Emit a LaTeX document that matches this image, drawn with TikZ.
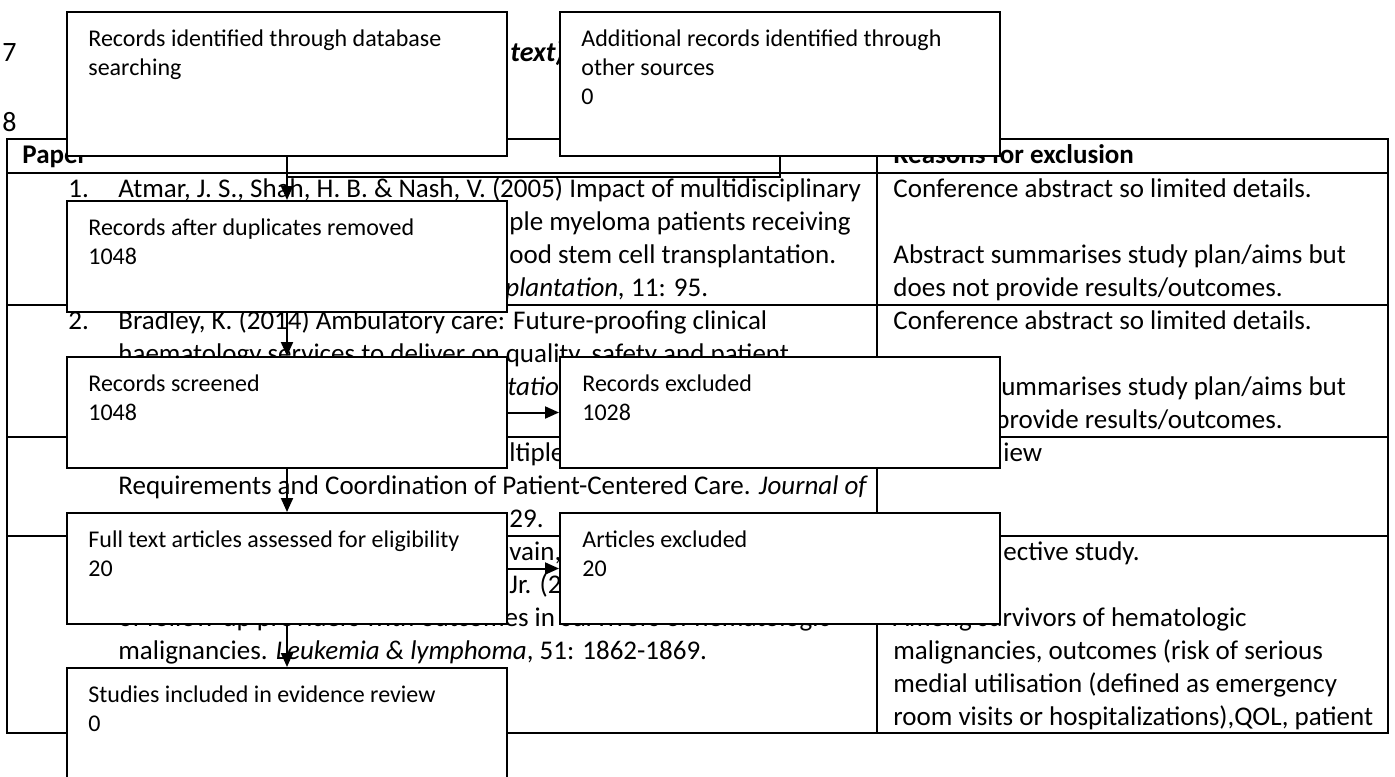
\documentclass[tikz,border=0pt]{standalone}
\usepackage{fontspec}
\setmainfont{Carlito}
\usetikzlibrary{arrows.meta,positioning}

\tikzset{
  flowbox/.style={draw, line width=1pt, fill=white, minimum width=220pt, minimum height=55.5pt, inner sep=0pt},
  boxtxt/.style={anchor=base west, inner sep=0pt, align=left, font=\fontsize{12}{14.65}\selectfont},
  celltxt/.style={anchor=base west, inner sep=0pt, font=\fontsize{13.5}{16.5}\selectfont},
  headtxt/.style={celltxt, font=\fontsize{13.5}{16.5}\selectfont\bfseries},
  flowarrow/.style={line width=1pt, -{Triangle[length=7pt,width=6pt]}},
  gridline/.style={line width=0.9pt}
}

\begin{document}
\begin{tikzpicture}[x=0.5pt,y=-0.5pt]
  \useasboundingbox (0,0) rectangle (1395,776);
  \clip (0,0) rectangle (1395,776);

  \node[anchor=base west, inner sep=0pt, font=\fontsize{14}{16}\selectfont] (lnseven) at (2,61) {7};
  \node[anchor=base west, inner sep=0pt, font=\fontsize{14}{16}\selectfont] (lneight) at (2,131) {8};
  \node[anchor=base west, inner sep=0pt, font=\fontsize{14}{16}\selectfont\bfseries\itshape] (title) at (510,61) {text)};

  \draw[gridline] (7,139) rectangle (1388,733);
  \draw[gridline] (877,139) -- (877,733);
  \foreach \y in {173,305,437,536}
    \draw[gridline] (7,\y) -- (1388,\y);

  \node[headtxt] (hdpaper) at (22,163) {Paper};
  \node[headtxt] (hdreason) at (893,163) {Reasons for exclusion};

  \node[celltxt] (onenum) at (68,197) {1.};
  \node[celltxt] (onea) at (118,197) {Atmar, J. S., Shah, H. B. \& Nash, V. (2005) Impact of multidisciplinary};
  \node[celltxt] (oneb) at (509,230) {ple myeloma patients receiving};
  \node[celltxt] (onec) at (509,263) {ood stem cell transplantation.};
  \node[celltxt] (oned) at (505,296) {\textit{plantation,} 11: 95.};
  \node[celltxt] (onewhya) at (893,197) {Conference abstract so limited details.};
  \node[celltxt] (onewhyb) at (893,263) {Abstract summarises study plan/aims but};
  \node[celltxt] (onewhyc) at (893,296) {does not provide results/outcomes.};

  \node[celltxt] (twonum) at (68,329) {2.};
  \node[celltxt] (twoa) at (118,329) {Bradley, K. (2014) Ambulatory care: Future-proofing clinical};
  \node[celltxt] (twob) at (118,362) {haematology services to deliver on quality, safety and patient};
  \node[celltxt] (twoc) at (507,395) {\textit{tation}};
  \node[celltxt] (twowhya) at (893,329) {Conference abstract so limited details.};
  \node[celltxt] (twowhyb) at (893,395) {Abstract summarises study plan/aims but};
  \node[celltxt] (twowhyc) at (893,428) {does not provide results/outcomes.};

  \node[celltxt] (threea) at (509,461) {ltiple};
  \node[celltxt] (threeb) at (118,494) {Requirements and Coordination of Patient-Centered Care. \textit{Journal of}};
  \node[celltxt] (threec) at (509,527) {29.};
  \node[celltxt] (threewhy) at (1003,461) {iew};

  \node[celltxt] (foura) at (509,560) {vain,};
  \node[celltxt] (fourb) at (509,593) {Jr. (2};
  \node[celltxt] (fourc) at (118,626) {of follow-up providers with outcomes in survivors of hematologic};
  \node[celltxt] (fourd) at (118,659) {malignancies. \textit{Leukemia \& lymphoma}, 51: 1862-1869.};
  \node[celltxt] (fourwhya) at (1003,560) {ective study.};
  \node[celltxt] (fourwhyb) at (893,626) {Among survivors of hematologic};
  \node[celltxt] (fourwhyc) at (893,659) {malignancies, outcomes (risk of serious};
  \node[celltxt] (fourwhyd) at (893,692) {medial utilisation (defined as emergency};
  \node[celltxt] (fourwhye) at (893,725) {room visits or hospitalizations),QOL, patient};

  \node[flowbox, minimum height=72pt] (ident) at (287,84) {};
  \node[flowbox, minimum height=72pt] (other) at (780,84) {};
  \node[flowbox] (dedup) at (287,256.5) {};
  \node[flowbox] (screen) at (287,412.5) {};
  \node[flowbox] (recexcl) at (780,412.5) {};
  \node[flowbox] (fulltext) at (287,568.5) {};
  \node[flowbox] (artexcl) at (780,568.5) {};
  \node[flowbox] (incl) at (287,723.5) {};

  \node[boxtxt] (identtxt) at (88,75.3) {Records identified through database\\searching};
  \node[boxtxt] (othertxt) at (581,104.6) {Additional records identified through\\other sources\\0};
  \node[boxtxt] (deduptxt) at (88,264.3) {Records after duplicates removed\\1048};
  \node[boxtxt] (screentxt) at (88,420.3) {Records screened\\1048};
  \node[boxtxt] (recexcltxt) at (582,420.3) {Records excluded\\1028};
  \node[boxtxt] (fulltexttxt) at (88,576.3) {Full text articles assessed for eligibility\\20};
  \node[boxtxt] (artexcltxt) at (582,576.3) {Articles excluded\\20};
  \node[boxtxt] (incltxt) at (88,731.3) {Studies included in evidence review\\0};

  \coordinate (merge) at (287,177);
  \draw[line width=1pt] (other.south) |- (merge);
  \draw[flowarrow] (ident) -- (dedup);
  \draw[flowarrow] (dedup) -- (screen);
  \draw[flowarrow] (screen) -- (recexcl);
  \draw[flowarrow] (screen) -- (fulltext);
  \draw[flowarrow] (fulltext) -- (artexcl);
  \draw[flowarrow] (fulltext) -- (incl);
\end{tikzpicture}
\end{document}
